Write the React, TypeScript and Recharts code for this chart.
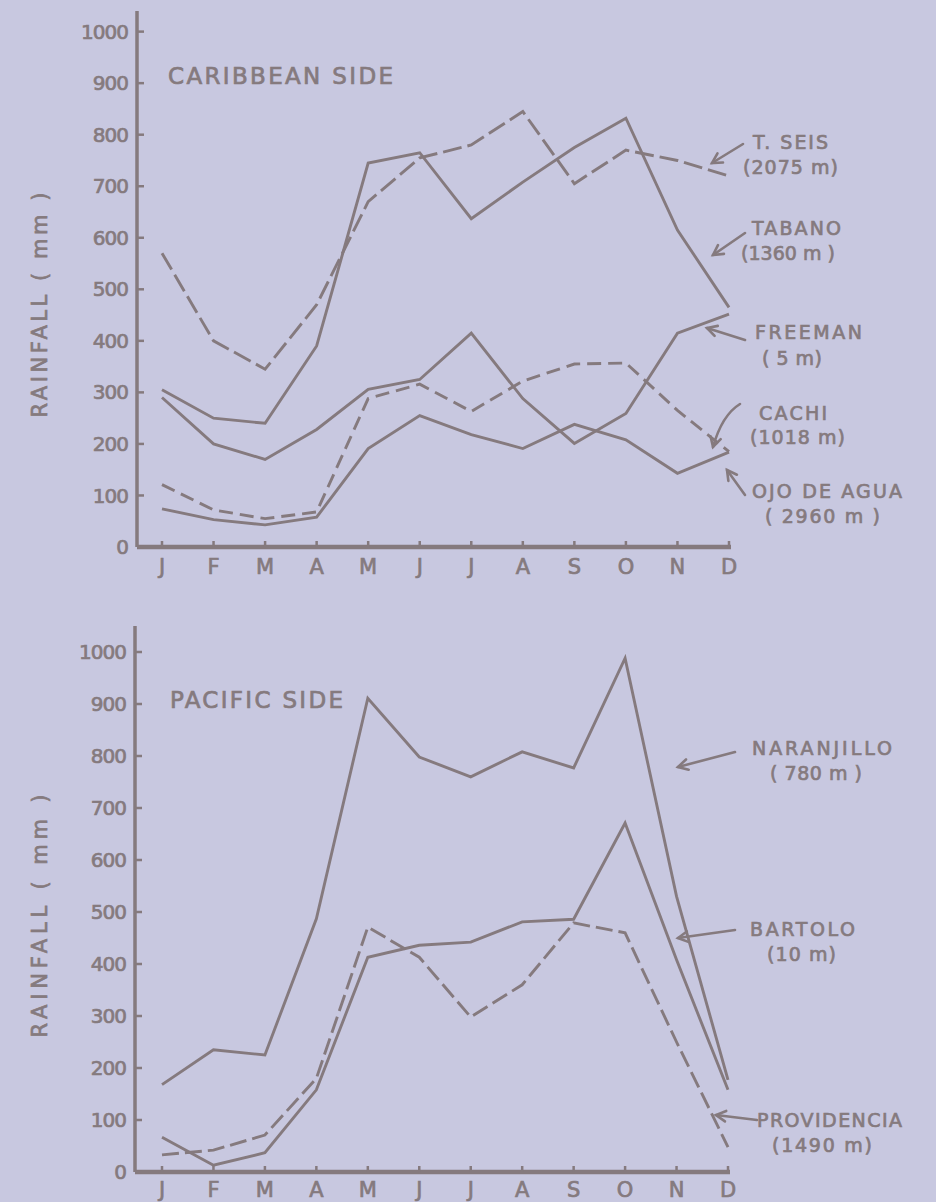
import { LineChart, Line, XAxis, YAxis } from "recharts";

const INK = "#857a7e";
const PAPER = "#c8c8e0";
const FONT = "'DejaVu Sans', sans-serif";

const months = ["Jan", "Feb", "Mar", "Apr", "May", "Jun", "Jul", "Aug", "Sep", "Oct", "Nov", "Dec"];
const yTicks = [0, 100, 200, 300, 400, 500, 600, 700, 800, 900, 1000];

// caribbean side, mm
const tSeis = [570, 400, 345, 470, 670, 755, 780, 845, 705, 770, 750, 720];
const tabano = [305, 250, 240, 390, 745, 765, 637, 708, 775, 832, 615, 465];
const freeman = [290, 200, 170, 228, 306, 325, 415, 288, 201, 259, 415, 452];
const cachi = [121, 72, 55, 68, 288, 316, 263, 322, 355, 357, 265, 185];
const ojoDeAgua = [74, 53, 43, 58, 191, 255, 218, 191, 238, 208, 143, 184];

// pacific side, mm
const naranjillo = [168, 235, 225, 487, 911, 798, 760, 808, 777, 988, 530, 177];
const bartolo = [67, 13, 37, 158, 413, 436, 442, 481, 486, 671, 408, 158];
const providencia = [33, 42, 71, 180, 471, 413, 298, 360, 479, 460, 250, 48];

const caribbean = months.map((m, i) => ({
  m,
  tSeis: tSeis[i],
  tabano: tabano[i],
  freeman: freeman[i],
  cachi: cachi[i],
  ojoDeAgua: ojoDeAgua[i],
}));

const pacific = months.map((m, i) => ({
  m,
  naranjillo: naranjillo[i],
  bartolo: bartolo[i],
  providencia: providencia[i],
}));

type Series = { key: string; dash?: string };

const caribbeanSeries: Series[] = [
  { key: "tSeis", dash: "19 6" },
  { key: "tabano" },
  { key: "freeman" },
  { key: "cachi", dash: "14 7" },
  { key: "ojoDeAgua" },
];

const pacificSeries: Series[] = [
  { key: "naranjillo" },
  { key: "bartolo" },
  { key: "providencia", dash: "17 6" },
];

const tickText = { fill: INK, stroke: INK, strokeWidth: 0.7, fontSize: 20, fontFamily: FONT };

function Panel(props: {
  data: any[];
  series: Series[];
  top: number;
  height: number;
  yMax: number;
  margin: { top: number; right: number; bottom: number; left: number };
  padLeft: number;
  xTickMargin: number;
}) {
  const { data, series, top, height, yMax, margin, padLeft, xTickMargin } = props;
  return (
    <div style={{ position: "absolute", left: 0, top }}>
      <LineChart width={936} height={height} data={data} margin={margin}>
        <XAxis
          dataKey="m"
          interval={0}
          tickFormatter={(v: string) => v[0]}
          padding={{ left: padLeft, right: 2 }}
          axisLine={{ stroke: INK, strokeWidth: 4.5 }}
          tickLine={{ stroke: INK, strokeWidth: 2.5 }}
          tickSize={-6}
          tickMargin={xTickMargin}
          height={30}
          tick={{ ...tickText, fontSize: 21 }}
        />
        <YAxis
          domain={[0, yMax]}
          ticks={yTicks}
          interval={0}
          width={60}
          axisLine={{ stroke: INK, strokeWidth: 3.5 }}
          tickLine={{ stroke: INK, strokeWidth: 2.5 }}
          tickSize={-7}
          tickMargin={16}
          tick={{ ...tickText, letterSpacing: -1 }}
        />
        {series.map((s) => (
          <Line
            key={s.key}
            type="linear"
            dataKey={s.key}
            stroke={INK}
            strokeWidth={2.9}
            strokeDasharray={s.dash}
            dot={false}
            isAnimationActive={false}
          />
        ))}
      </LineChart>
    </div>
  );
}

function Arrow({ x1, y1, x2, y2, cx, cy }: { x1: number; y1: number; x2: number; y2: number; cx?: number; cy?: number }) {
  const hx = cx ?? x1;
  const hy = cy ?? y1;
  const a = Math.atan2(y2 - hy, x2 - hx);
  const len = 11;
  const spread = 0.5;
  const p1 = [x2 - len * Math.cos(a - spread), y2 - len * Math.sin(a - spread)];
  const p2 = [x2 - len * Math.cos(a + spread), y2 - len * Math.sin(a + spread)];
  const d = cx != null ? `M${x1},${y1} Q${cx},${cy} ${x2},${y2}` : `M${x1},${y1} L${x2},${y2}`;
  return (
    <g stroke={INK} strokeWidth={2.6} fill="none" strokeLinecap="round">
      <path d={d} />
      <path d={`M${p1[0]},${p1[1]} L${x2},${y2} L${p2[0]},${p2[1]}`} />
    </g>
  );
}

const labels = [
  { t: "T. SEIS", x: 753, y: 142, w: 75 },
  { t: "(2075 m)", x: 743, y: 167, w: 95 },
  { t: "TABANO", x: 752, y: 228, w: 89 },
  { t: "(1360 m )", x: 741, y: 253, w: 94 },
  { t: "FREEMAN", x: 755, y: 332, w: 107 },
  { t: "( 5 m)", x: 762, y: 358, w: 60 },
  { t: "CACHI", x: 759, y: 413, w: 68 },
  { t: "(1018 m)", x: 750, y: 437, w: 95 },
  { t: "OJO DE AGUA", x: 752, y: 491, w: 150 },
  { t: "( 2960 m )", x: 765, y: 516, w: 115 },
  { t: "NARANJILLO", x: 752, y: 748, w: 140 },
  { t: "( 780 m )", x: 770, y: 773, w: 92 },
  { t: "BARTOLO", x: 750, y: 929, w: 105 },
  { t: "(10 m)", x: 767, y: 954, w: 69 },
  { t: "PROVIDENCIA", x: 757, y: 1120, w: 145 },
  { t: "(1490 m)", x: 772, y: 1145, w: 100 },
];

export default function App() {
  return (
    <div
      style={{
        position: "absolute",
        left: 0,
        top: 0,
        width: 936,
        height: 1202,
        background: PAPER,
        overflow: "hidden",
        fontFamily: FONT,
      }}
    >
      <Panel
        data={caribbean}
        series={caribbeanSeries}
        top={0}
        height={600}
        yMax={1040}
        margin={{ top: 11, right: 205, bottom: 23, left: 77 }}
        padLeft={25}
        xTickMargin={18}
      />
      <Panel
        data={pacific}
        series={pacificSeries}
        top={600}
        height={602}
        yMax={1050}
        margin={{ top: 26, right: 206, bottom: 0, left: 75 }}
        padLeft={27}
        xTickMargin={16}
      />
      <svg
        width={936}
        height={1202}
        style={{ position: "absolute", left: 0, top: 0, pointerEvents: "none" }}
      >
        <g fill={INK} stroke={INK} strokeWidth={0.7} fontFamily={FONT}>
          <text x={168} y={84} fontSize={23} textLength={225} lengthAdjust="spacing">
            CARIBBEAN SIDE
          </text>
          <text x={170} y={708} fontSize={23} textLength={173} lengthAdjust="spacing">
            PACIFIC SIDE
          </text>
          <text
            transform="translate(47,305) rotate(-90)"
            textAnchor="middle"
            fontSize={21}
            textLength={225}
            lengthAdjust="spacing"
          >
            RAINFALL ( mm )
          </text>
          <text
            transform="translate(47,916) rotate(-90)"
            textAnchor="middle"
            fontSize={21}
            textLength={243}
            lengthAdjust="spacing"
          >
            RAINFALL ( mm )
          </text>
          {labels.map((l) => (
            <text key={l.t} x={l.x} y={l.y + 7} fontSize={19} textLength={l.w} lengthAdjust="spacing">
              {l.t}
            </text>
          ))}
        </g>
        <Arrow x1={743} y1={144} x2={712} y2={163} />
        <Arrow x1={745} y1={233} x2={713} y2={255} />
        <Arrow x1={745} y1={340} x2={707} y2={328} />
        <Arrow x1={740} y1={404} cx={722} cy={415} x2={713} y2={447} />
        <Arrow x1={745} y1={495} x2={727} y2={470} />
        <Arrow x1={735} y1={752} x2={678} y2={767} />
        <Arrow x1={735} y1={930} x2={678} y2={938} />
        <Arrow x1={757} y1={1120} x2={716} y2={1115} />
      </svg>
    </div>
  );
}
